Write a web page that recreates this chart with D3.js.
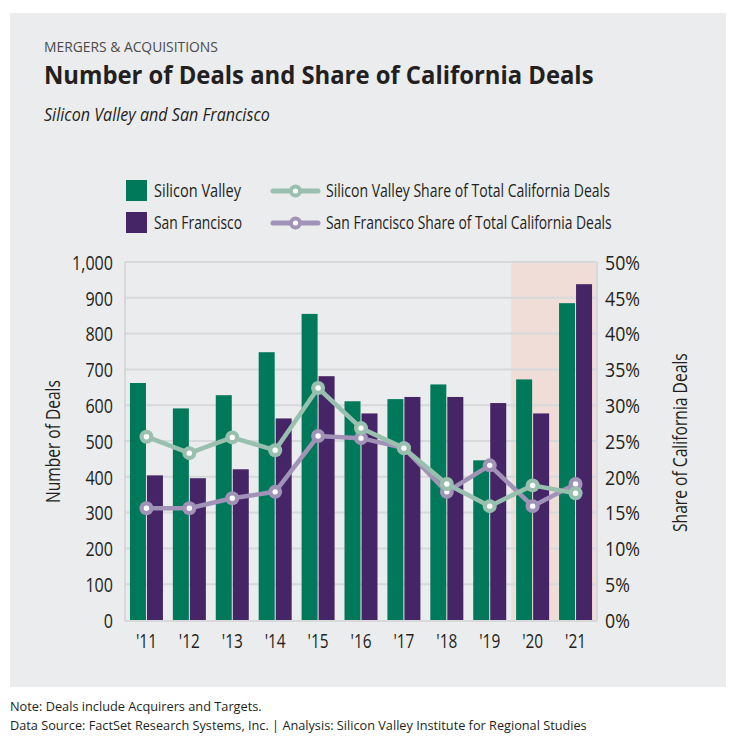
<!DOCTYPE html>
<html><head><meta charset="utf-8">
<script src="https://cdn.jsdelivr.net/npm/d3@7"></script>
<style>
html,body{margin:0;padding:0;background:#fff;}
svg{display:block;}
text{font-family:"Open Sans","Noto Sans",sans-serif;}
</style></head>
<body>
<svg id="chart" width="738" height="746"></svg>
<script>
const years = ["'11","'12","'13","'14","'15","'16","'17","'18","'19","'20","'21"];
const svDeals = [662, 591, 628, 748, 855, 611, 617, 658, 446, 672, 885];
const sfDeals = [404, 396, 421, 563, 681, 577, 623, 623, 606, 577, 938];
const svShare = [25.6, 23.3, 25.5, 23.7, 32.4, 26.8, 24.0, 19.0, 15.9, 18.8, 17.7];
const sfShare = [15.6, 15.6, 17.0, 17.9, 25.7, 25.4, 24.0, 17.9, 21.6, 15.9, 19.0];
const dealTicks = [0,100,200,300,400,500,600,700,800,900,1000];
const shareTicks = [0,5,10,15,20,25,30,35,40,45,50];
const highlightYears = ["'20","'21"];
const seriesNames = ["Silicon Valley","San Francisco"];
const lineNames = ["Silicon Valley Share of Total California Deals","San Francisco Share of Total California Deals"];

const C = {sv:"#00795a", sf:"#452566", svL:"#99c0ae", sfL:"#a192b7", bg:"#ebecee", grid:"#d7d8da", text:"#231f20"};

const svg = d3.select("#chart");

// fit text horizontally to a target width; pre = transform prefix
function fit(sel, w, pre){
  sel.each(function(){
    const t = d3.select(this);
    const len = this.getComputedTextLength();
    const x = +t.attr("x")||0, y = +t.attr("y")||0;
    const s = w/len;
    t.attr("x",0).attr("y",0)
     .attr("transform",(pre||"")+` translate(${x},${y}) scale(${s},1)`);
  });
  return sel;
}

// panel
svg.append("rect").attr("x",10).attr("y",13).attr("width",716).attr("height",674).attr("fill",C.bg);

// titles
fit(svg.append("text").attr("x",44).attr("y",52).attr("font-size",14.5).attr("fill","#4a4a4a").text("MERGERS & ACQUISITIONS"),174);
fit(svg.append("text").attr("x",44).attr("y",83.5).attr("font-size",25).attr("font-weight","bold").attr("fill",C.text).text("Number of Deals and Share of California Deals"),550);
fit(svg.append("text").attr("x",44).attr("y",121).attr("font-size",19).attr("font-style","italic").attr("fill",C.text).text("Silicon Valley and San Francisco"),226);

// legend
const lg = svg.append("g");
[[C.sv,180],[C.sf,212]].forEach((d,i)=>{
  lg.append("rect").attr("x",126).attr("y",d[1]).attr("width",21).attr("height",21).attr("fill",d[0]);
  fit(lg.append("text").attr("x",154).attr("y",d[1]+17).attr("font-size",18).attr("fill",C.text).text(seriesNames[i]), i===0?87:88);
});
[[C.svL,191],[C.sfL,223]].forEach((d,i)=>{
  lg.append("line").attr("x1",273).attr("x2",318).attr("y1",d[1]).attr("y2",d[1]).attr("stroke",d[0]).attr("stroke-width",5).attr("stroke-linecap","round");
  lg.append("circle").attr("cx",295.5).attr("cy",d[1]).attr("r",6.5).attr("fill",d[0]);
  lg.append("circle").attr("cx",295.5).attr("cy",d[1]).attr("r",2.6).attr("fill","#fff");
  fit(lg.append("text").attr("x",326).attr("y",d[1]+6).attr("font-size",18).attr("fill",C.text).text(lineNames[i]), i===0?284:286);
});

// scales
const pL=125, pR=597, pT=262, pB=620;
const x = d3.scaleBand().domain(years).range([pL,pR]).paddingInner(0.23).paddingOuter(0.115);
const xc = d => x(d)+x.bandwidth()/2;
const y = d3.scaleLinear().domain([0,1000]).range([pB,pT]);
const y2 = d3.scaleLinear().domain([0,50]).range([pB,pT]);

// highlight
const step = x.step();
const hx0 = xc(highlightYears[0]) - step/2;
svg.append("rect").attr("x",hx0).attr("y",pT).attr("width",pR-hx0).attr("height",pB-pT).attr("fill","#f1ddd7");

// gridlines
svg.append("g").selectAll("line").data(dealTicks.filter(d=>d>0)).join("line")
  .attr("x1",pL).attr("x2",pR).attr("y1",d=>y(d)).attr("y2",d=>y(d))
  .attr("stroke",C.grid).attr("stroke-width",2);

// axis frame lines
svg.append("line").attr("x1",pL).attr("x2",pL).attr("y1",pT).attr("y2",pB+1).attr("stroke",C.grid).attr("stroke-width",2);
svg.append("line").attr("x1",pR).attr("x2",pR).attr("y1",pT).attr("y2",pB+1).attr("stroke",C.grid).attr("stroke-width",2);
svg.append("line").attr("x1",pL).attr("x2",pR).attr("y1",pB+1).attr("y2",pB+1).attr("stroke",C.grid).attr("stroke-width",2);

// bars
const bw = 16;
const bars = svg.append("g");
bars.selectAll(".sv").data(years).join("rect")
  .attr("x",d=>xc(d)-bw-0.5).attr("width",bw)
  .attr("y",(d,i)=>y(svDeals[i])).attr("height",(d,i)=>y(0)-y(svDeals[i])).attr("fill",C.sv);
bars.selectAll(".sf").data(years).join("rect")
  .attr("x",d=>xc(d)+0.5).attr("width",bw)
  .attr("y",(d,i)=>y(sfDeals[i])).attr("height",(d,i)=>y(0)-y(sfDeals[i])).attr("fill",C.sf);

// lines
function drawLine(vals,col){
  const g = svg.append("g");
  const pts = years.map((d,i)=>[xc(d),y2(vals[i])]);
  g.append("path").attr("d",d3.line()(pts)).attr("fill","none").attr("stroke",col).attr("stroke-width",4.5).attr("stroke-linejoin","round");
  g.selectAll(".o").data(pts).join("circle").attr("cx",d=>d[0]).attr("cy",d=>d[1]).attr("r",7).attr("fill",col);
  g.selectAll(".i").data(pts).join("circle").attr("cx",d=>d[0]).attr("cy",d=>d[1]).attr("r",2.7).attr("fill","#fff");
}
drawLine(sfShare,C.sfL);
drawLine(svShare,C.svL);

// condense a group of tick labels with a uniform scale, anchored at x=ax
function condense(texts, refWidth, refText, ax){
  let s = 0.8;
  texts.each(function(){ if(d3.select(this).text()===refText) s = refWidth/this.getComputedTextLength(); });
  texts.attr("transform",`translate(${ax},0) scale(${s},1) translate(${-ax},0)`);
}

// left axis
const fmt = d3.format(",");
const yAxis = d3.axisLeft(y).tickValues(dealTicks).tickFormat(fmt).tickSize(0).tickPadding(12);
const ga = svg.append("g").attr("transform",`translate(${pL},0)`).call(yAxis);
ga.select(".domain").remove();
const ta = ga.selectAll("text").attr("font-size",20).attr("fill",C.text).attr("font-family",null).attr("dy","0.36em");
condense(ta, 41, "1,000", -12);

// right axis
const y2Axis = d3.axisRight(y2).tickValues(shareTicks).tickFormat(d=>d+"%").tickSize(0).tickPadding(8);
const gb = svg.append("g").attr("transform",`translate(${pR},0)`).call(y2Axis);
gb.select(".domain").remove();
const tb = gb.selectAll("text").attr("font-size",20).attr("fill",C.text).attr("font-family",null).attr("dy","0.36em");
condense(tb, 35, "50%", 8);

// x axis
const xAxis = d3.axisBottom(x).tickSize(0).tickPadding(0);
const gx = svg.append("g").attr("transform",`translate(0,${pB})`).call(xAxis);
gx.select(".domain").remove();
const tx = gx.selectAll("text").attr("font-size",20).attr("fill",C.text).attr("font-family",null).attr("y",28).attr("dy",0);
condense(tx, 21, "'11", 0);

// axis titles
fit(svg.append("text").attr("x",0).attr("y",0).attr("font-size",20).attr("fill",C.text).text("Number of Deals"),123, `translate(60,${441.5+61.5}) rotate(-90)`);
fit(svg.append("text").attr("x",0).attr("y",0).attr("font-size",20).attr("fill",C.text).text("Share of California Deals"),179, `translate(687,${442.5+89.5}) rotate(-90)`);

// footer
fit(svg.append("text").attr("x",10).attr("y",710.5).attr("font-size",13.5).attr("fill",C.text).text("Note: Deals include Acquirers and Targets."),252);
fit(svg.append("text").attr("x",10).attr("y",729.5).attr("font-size",13.5).attr("fill",C.text).text("Data Source: FactSet Research Systems, Inc. | Analysis: Silicon Valley Institute for Regional Studies"),577);
</script>
</body></html>
